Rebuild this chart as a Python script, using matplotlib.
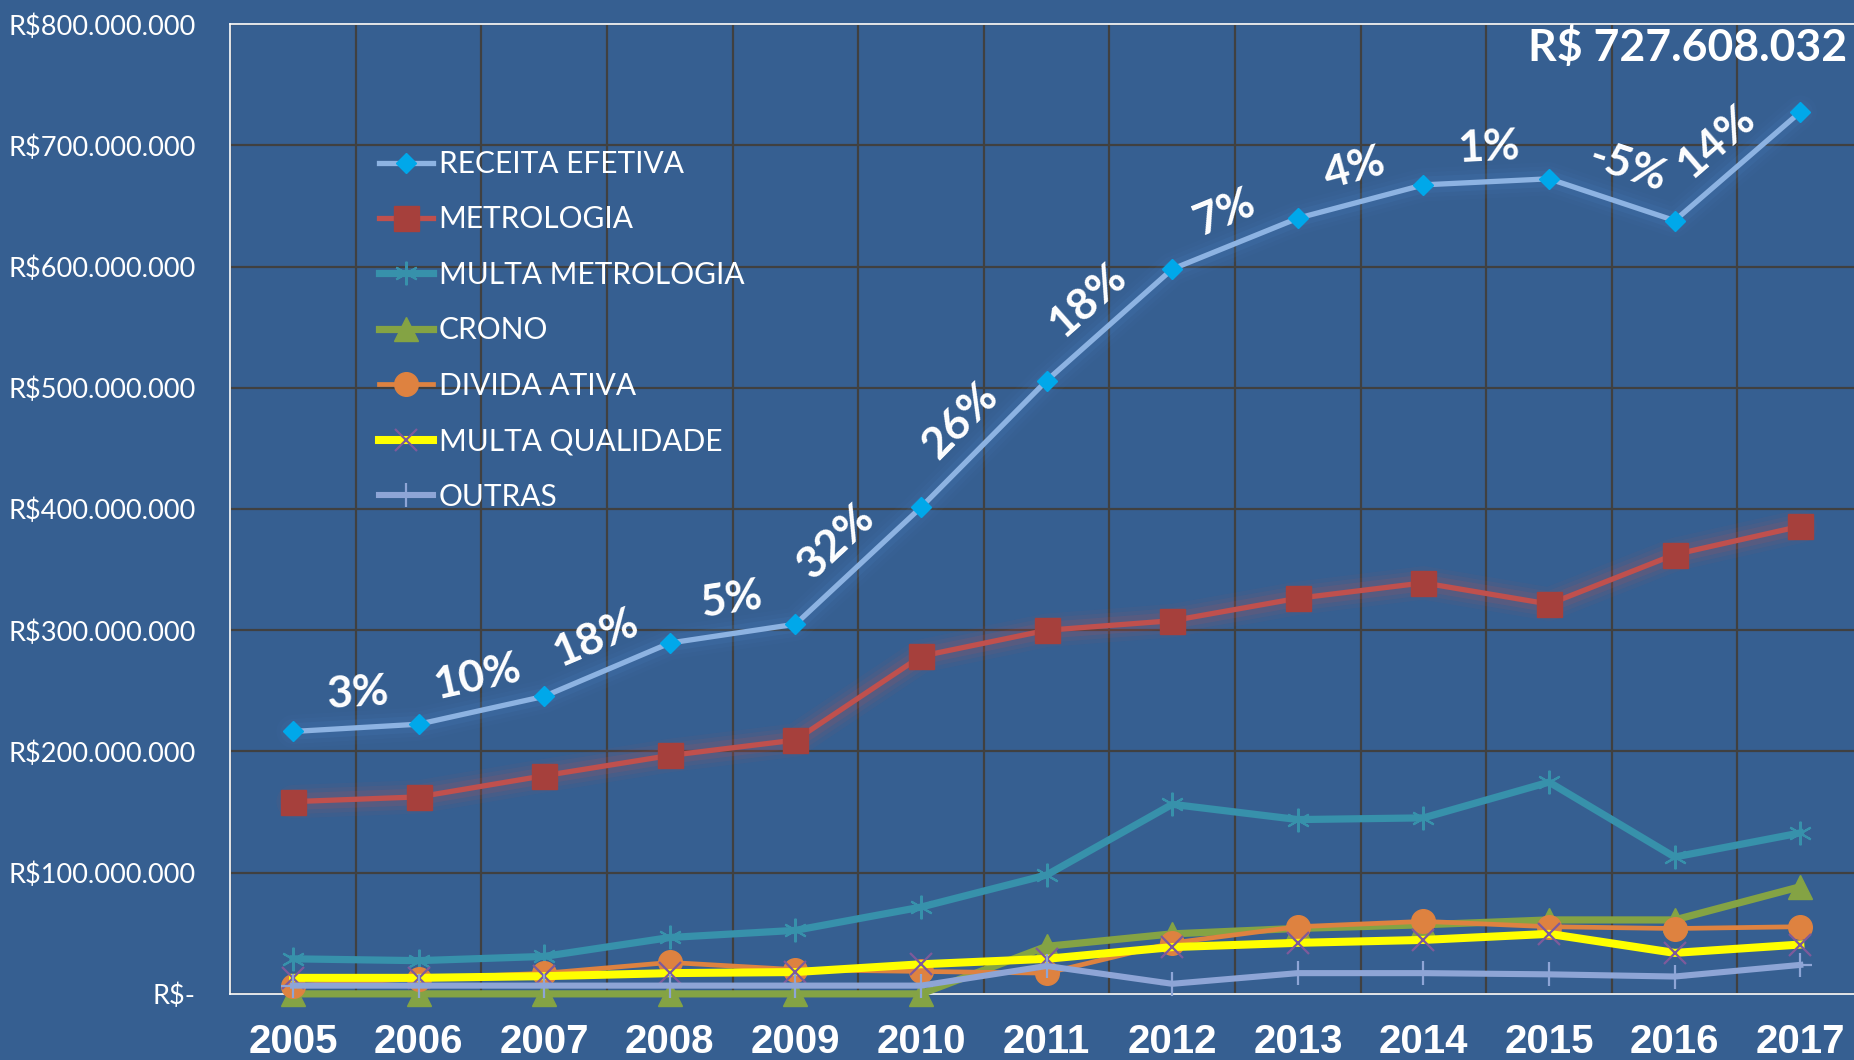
import math

import matplotlib
matplotlib.use("Agg")
import matplotlib.pyplot as plt
from matplotlib.ticker import FuncFormatter, MultipleLocator


# Arrecadação por origem, em milhões de reais
years = [2005, 2006, 2007, 2008, 2009, 2010, 2011, 2012, 2013, 2014, 2015, 2016, 2017]
receita_efetiva = [216.5, 222.5, 245.5, 289.5, 305.0, 401.5, 506.0, 598.0, 640.0, 667.5, 672.5, 638.0, 727.608032]
metrologia = [158.6, 162.5, 180.0, 196.7, 209.4, 278.6, 300.0, 307.9, 326.4, 339.1, 321.6, 362.5, 385.8]
multa_metrologia = [28.9, 27.4, 30.9, 46.5, 52.4, 71.6, 98.1, 156.4, 143.8, 145.2, 174.7, 112.9, 132.8]
crono = [0, 0, 0, 0, 0, 0, 39.2, 49.5, 54.0, 57.0, 61.0, 61.0, 88.4]
divida_ativa = [6.8, 12.6, 17.0, 25.9, 20.0, 18.5, 17.1, 42.0, 55.4, 59.8, 55.4, 53.9, 55.4]
multa_qualidade = [13.2, 13.2, 14.6, 17.1, 18.0, 24.4, 28.9, 38.6, 42.1, 44.5, 49.5, 33.8, 40.7]
outras = [6.8, 6.8, 6.8, 6.8, 6.8, 6.8, 23.0, 8.3, 17.1, 17.1, 16.1, 14.3, 23.9]

BG = "#365F91"
GRID = "#404040"


def brl(v, pos=None):
    if v == 0:
        return "R$-"
    return "R$" + f"{v * 1e6:,.0f}".replace(",", ".")


fig = plt.figure(figsize=(18.54, 10.6), dpi=100, facecolor=BG)
ax = fig.add_axes([0.1242, 0.0624, 0.8807, 0.9147], facecolor=BG)

ax.set_xlim(2004.5, 2017.5)
ax.set_ylim(0, 800)

# grade: linhas horizontais a cada 100 milhões, verticais entre os anos
ax.yaxis.set_major_locator(MultipleLocator(100))
ax.yaxis.set_major_formatter(FuncFormatter(brl))
ax.set_xticks(years)
ax.set_xticks([y - 0.5 for y in years] + [2017.5], minor=True)
ax.grid(axis="y", which="major", color=GRID, lw=1.6, zorder=0)
ax.grid(axis="x", which="minor", color=GRID, lw=1.6, zorder=0)
ax.set_axisbelow(True)

for side in ["left", "top", "bottom"]:
    ax.spines[side].set_color("white")
    ax.spines[side].set_linewidth(1.2)
ax.spines["right"].set_visible(False)

ax.tick_params(axis="y", length=0, pad=25, labelcolor="white", labelsize=19.5)
ax.tick_params(axis="x", which="both", length=0, pad=21, labelcolor="white")
for lbl in ax.get_yticklabels():
    lbl.set_fontfamily("Lato")
for lbl in ax.get_xticklabels():
    lbl.set_fontfamily("Liberation Sans")
    lbl.set_fontweight("bold")
    lbl.set_fontsize(29)

# brilho em volta das duas séries principais
for data, glow in [(receita_efetiva, "#4A86C8"), (metrologia, "#D0504D")]:
    for w, a in [(24, 0.05), (18, 0.07), (12, 0.12)]:
        ax.plot(years, data, color=glow, lw=w, alpha=a, solid_capstyle="round",
                solid_joinstyle="round", zorder=3, clip_on=False)

series = [
    ("RECEITA EFETIVA", receita_efetiva, dict(color="#8DB3E2", lw=3.8, marker="D", ms=10,
                                              mfc="#00A8EA", mec="#00A8EA")),
    ("METROLOGIA", metrologia, dict(color="#C0504D", lw=3.8, marker="s", ms=18,
                                    mfc="#A6403C", mec="#A6403C")),
    ("MULTA METROLOGIA", multa_metrologia, dict(color="#3791AB", lw=5.2, marker=(6, 2, 0), ms=17,
                                                mfc="#3791AB", mec="#3791AB", mew=1.5)),
    ("CRONO", crono, dict(color="#84A344", lw=5.2, marker="^", ms=17,
                          mfc="#84A344", mec="#84A344")),
    ("DIVIDA ATIVA", divida_ativa, dict(color="#DE8240", lw=3.4, marker="o", ms=17,
                                        mfc="#DE8240", mec="#DE8240")),
    ("MULTA QUALIDADE", multa_qualidade, dict(color="#FFFF00", lw=5.8, marker="x", ms=16,
                                              mfc="#7E5A9B", mec="#7E5A9B", mew=1.6)),
    ("OUTRAS", outras, dict(color="#8EA5D6", lw=4.4, marker="+", ms=17,
                            mfc="#8EA5D6", mec="#8EA5D6", mew=1.6)),
]

handles = []
for i, (name, data, style) in enumerate(series):
    (ln,) = ax.plot(years, data, label=name, zorder=4 + i, clip_on=False,
                    solid_joinstyle="round", **style)
    handles.append(ln)

# variação anual da receita, escrita ao longo de cada segmento
for i in range(len(years) - 1):
    a, b = receita_efetiva[i], receita_efetiva[i + 1]
    pct = round((b / a - 1) * 100)
    p0 = ax.transData.transform((years[i], a))
    p1 = ax.transData.transform((years[i + 1], b))
    ang = math.atan2(p1[1] - p0[1], p1[0] - p0[0])
    off = 28
    ax.annotate(f"{pct}%", xy=((years[i] + years[i + 1]) / 2, (a + b) / 2),
                xytext=(-math.sin(ang) * off + 3, math.cos(ang) * off - 3), textcoords="offset points",
                rotation=math.degrees(ang), rotation_mode="anchor", ha="center", va="center",
                color="white", fontsize=32, fontweight="bold", fontfamily="Lato", zorder=20)

total = receita_efetiva[-1]
fig.text(1847 / 1854, 1 - 47 / 1060, "R$ " + f"{total * 1e6:,.0f}".replace(",", "."),
         ha="right", va="center", color="white", fontsize=32, fontweight="bold",
         fontfamily="Lato")

leg = fig.legend(handles=handles, loc="upper left", bbox_to_anchor=(379 / 1854, 1 - 150 / 1060),
                 frameon=False, borderpad=0, borderaxespad=0, handlelength=1.8,
                 handletextpad=0.2, labelspacing=0.92, numpoints=1,
                 prop={"family": "Lato", "size": 21.5})
for t in leg.get_texts():
    t.set_color("white")

fig.savefig("out.png", dpi=100, facecolor=BG)
